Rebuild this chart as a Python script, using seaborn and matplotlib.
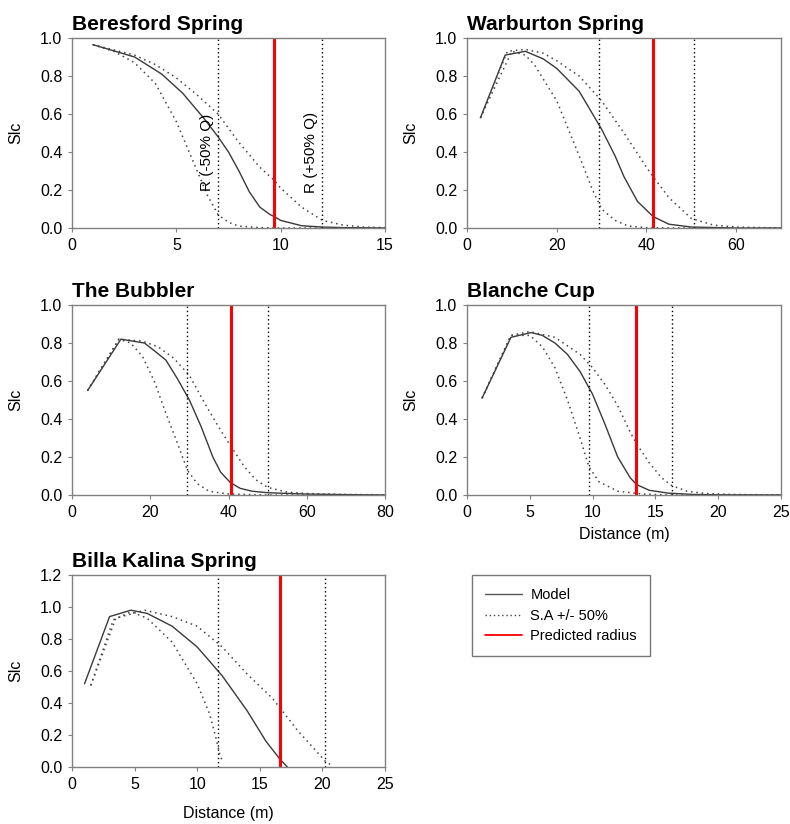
import numpy as np
import pandas as pd
import matplotlib
matplotlib.use("Agg")
import matplotlib.pyplot as plt
from matplotlib.lines import Line2D
import seaborn as sns

# --- data (distance in m, Slc) ---
beresford_model_x = [1, 3, 4.3, 5.3, 6.3, 7, 7.5, 8, 8.5, 9, 9.5, 9.7, 10, 11, 12, 13, 15]
beresford_model_y = [0.965, 0.90, 0.81, 0.71, 0.58, 0.48, 0.40, 0.30, 0.19, 0.11, 0.07, 0.06, 0.04, 0.012, 0.005, 0.002, 0.0]
beresford_low_x = [1, 2, 3, 4, 5, 5.5, 6, 6.5, 7, 7.5, 8, 9, 10, 15]
beresford_low_y = [0.965, 0.93, 0.87, 0.76, 0.56, 0.43, 0.30, 0.17, 0.07, 0.03, 0.01, 0.002, 0.0, 0.0]
beresford_high_x = [1, 3, 4, 5, 6, 7, 8, 9, 9.7, 10, 11, 12, 13, 14, 15]
beresford_high_y = [0.965, 0.91, 0.86, 0.79, 0.70, 0.60, 0.45, 0.32, 0.25, 0.21, 0.11, 0.04, 0.015, 0.005, 0.002]

warburton_model_x = [3, 8.5, 13, 17, 20, 25, 30, 33, 35, 38, 41.5, 45, 50, 60, 70]
warburton_model_y = [0.58, 0.91, 0.93, 0.89, 0.84, 0.72, 0.52, 0.38, 0.27, 0.14, 0.06, 0.02, 0.005, 0.0, 0.0]
warburton_low_x = [3, 10, 13, 15, 20, 25, 28, 30, 33, 36, 40, 45, 70]
warburton_low_y = [0.58, 0.93, 0.91, 0.86, 0.67, 0.38, 0.20, 0.10, 0.04, 0.01, 0.002, 0.0, 0.0]
warburton_high_x = [3, 9, 13, 17, 20, 25, 30, 35, 40, 41.5, 45, 50, 55, 60, 70]
warburton_high_y = [0.58, 0.93, 0.94, 0.92, 0.88, 0.80, 0.67, 0.50, 0.32, 0.27, 0.16, 0.05, 0.015, 0.005, 0.0]

bubbler_model_x = [4, 12.5, 18.5, 21, 24, 27, 30, 33, 36, 38, 40.5, 43, 46, 50, 60, 70, 80]
bubbler_model_y = [0.55, 0.82, 0.80, 0.76, 0.71, 0.61, 0.50, 0.36, 0.20, 0.12, 0.065, 0.035, 0.02, 0.012, 0.005, 0.002, 0.0]
bubbler_low_x = [4, 12, 15, 18, 21, 24, 27, 29.5, 32, 35, 40, 50, 80]
bubbler_low_y = [0.55, 0.82, 0.80, 0.73, 0.60, 0.43, 0.27, 0.13, 0.06, 0.02, 0.005, 0.0, 0.0]
bubbler_high_x = [4, 12, 18, 22, 26, 30, 34, 38, 40.5, 44, 47, 50, 55, 60, 70, 80]
bubbler_high_y = [0.55, 0.82, 0.81, 0.78, 0.72, 0.63, 0.48, 0.34, 0.26, 0.15, 0.08, 0.04, 0.015, 0.008, 0.003, 0.001]

blanche_model_x = [1.2, 3.5, 5.1, 6, 7, 8, 9, 10, 11, 12, 13, 13.5, 14.5, 16, 18, 20, 25]
blanche_model_y = [0.51, 0.83, 0.855, 0.84, 0.80, 0.74, 0.65, 0.53, 0.37, 0.20, 0.09, 0.055, 0.025, 0.01, 0.003, 0.001, 0.0]
blanche_low_x = [1.2, 3.5, 5, 6, 7, 8, 9, 9.7, 10.5, 12, 14, 16, 25]
blanche_low_y = [0.51, 0.84, 0.84, 0.78, 0.67, 0.50, 0.30, 0.15, 0.07, 0.02, 0.005, 0.0, 0.0]
blanche_high_x = [1.2, 3.5, 5, 7, 9, 10, 11, 12, 13, 13.5, 14.5, 15.5, 16.3, 17.5, 19, 21, 25]
blanche_high_y = [0.51, 0.84, 0.86, 0.83, 0.74, 0.67, 0.58, 0.47, 0.33, 0.27, 0.17, 0.09, 0.05, 0.02, 0.008, 0.003, 0.0]

billa_model_x = [1, 3, 4.7, 6, 8, 10, 12, 14, 15.5, 16.6, 17.2]
billa_model_y = [0.52, 0.94, 0.98, 0.96, 0.88, 0.75, 0.57, 0.35, 0.16, 0.05, 0.0]
billa_low_x = [1.5, 3.3, 4.7, 6, 8, 10, 11, 11.5, 11.8, 12]
billa_low_y = [0.51, 0.92, 0.97, 0.93, 0.78, 0.52, 0.33, 0.18, 0.08, 0.04]
billa_high_x = [1.5, 3.5, 5.8, 8, 10, 12, 14, 16, 16.6, 18, 19.5, 20.3, 20.8]
billa_high_y = [0.51, 0.93, 0.98, 0.94, 0.88, 0.75, 0.58, 0.43, 0.37, 0.23, 0.10, 0.03, 0.01]

spring_names = ["Beresford Spring", "Warburton Spring", "The Bubbler", "Blanche Cup", "Billa Kalina Spring"]
radius_low = [7, 29.5, 29.5, 9.7, 11.7]       # R at -50% Q
radius_high = [12, 50.7, 50, 16.3, 20.2]      # R at +50% Q
radius_pred = [9.7, 41.5, 40.6, 13.45, 16.6]  # predicted radius
x_max = [15, 70, 80, 25, 25]
x_step = [5, 20, 20, 5, 5]
y_max = [1.0, 1.0, 1.0, 1.0, 1.2]

series = [
    (beresford_model_x, beresford_model_y, beresford_low_x, beresford_low_y, beresford_high_x, beresford_high_y),
    (warburton_model_x, warburton_model_y, warburton_low_x, warburton_low_y, warburton_high_x, warburton_high_y),
    (bubbler_model_x, bubbler_model_y, bubbler_low_x, bubbler_low_y, bubbler_high_x, bubbler_high_y),
    (blanche_model_x, blanche_model_y, blanche_low_x, blanche_low_y, blanche_high_x, blanche_high_y),
    (billa_model_x, billa_model_y, billa_low_x, billa_low_y, billa_high_x, billa_high_y),
]

sns.set_style("white")
plt.rcParams['font.family'] = ['Liberation Sans', 'DejaVu Sans']
plt.rcParams['text.color'] = 'black'
plt.rcParams['axes.labelcolor'] = 'black'
plt.rcParams['xtick.color'] = 'black'
plt.rcParams['ytick.color'] = 'black'

fig = plt.figure(figsize=(7.9, 8.24), dpi=100)
W, H = 790, 824
# axes boxes in pixels (left, top, right, bottom)
boxes = [(72, 38, 385, 228), (467, 38, 781, 228),
         (72, 305, 385, 495), (467, 305, 781, 495),
         (72, 575, 385, 767)]

GREY = "#808080"
for i, name in enumerate(spring_names):
    l, t, r, b = boxes[i]
    ax = fig.add_axes([l / W, 1 - b / H, (r - l) / W, (b - t) / H])
    mx, my, lx, ly, hx, hy = series[i]

    # model and sensitivity curves
    sns.lineplot(x=mx, y=my, ax=ax, color="#3a3a3a", lw=1.0, sort=False)
    sns.lineplot(x=lx, y=ly, ax=ax, color="#444444", lw=1.1, linestyle=(0, (1, 2.5)), sort=False)
    sns.lineplot(x=hx, y=hy, ax=ax, color="#444444", lw=1.1, linestyle=(0, (1, 2.5)), sort=False)

    # radius markers
    ax.axvline(radius_low[i], color="black", lw=1.0, linestyle=(0, (1, 2)))
    ax.axvline(radius_high[i], color="black", lw=1.0, linestyle=(0, (1, 2)))
    ax.axvline(radius_pred[i], color="#ff0000", lw=2.2)

    ax.set_xlim(0, x_max[i])
    ax.set_ylim(0, y_max[i])
    ax.set_xticks(np.arange(0, x_max[i] + 0.1, x_step[i]))
    ax.set_yticks(np.arange(0, y_max[i] + 0.01, 0.2))
    ax.yaxis.set_major_formatter(matplotlib.ticker.FormatStrFormatter('%.1f'))
    ax.tick_params(axis='both', labelsize=11.5, length=3, width=0.8, color=GREY, direction='out',
                   left=True, bottom=True, pad=4)
    for sp in ax.spines.values():
        sp.set_color(GREY)
        sp.set_linewidth(1.0)

    ax.set_ylabel("Slc", fontsize=11.5, labelpad=12)
    ax.set_title(name, loc='left', fontsize=15, fontweight='bold', pad=6, x=0.0)

    if i == 0:
        ax.text(radius_low[i] - 0.55, 0.40, "R (-50% Q)", rotation=90, fontsize=11,
                ha='center', va='center')
        ax.text(radius_high[i] - 0.55, 0.40, "R (+50% Q)", rotation=90, fontsize=11,
                ha='center', va='center')
    if i == 3:
        ax.set_xlabel("Distance (m)", fontsize=11.5, labelpad=5)
    if i == 4:
        ax.set_xlabel("Distance (m)", fontsize=11.5, labelpad=10)

handles = [
    Line2D([], [], color="#555555", lw=1.0, label="Model"),
    Line2D([], [], color="#444444", lw=1.0, linestyle=(0, (1, 2)), label="S.A +/- 50%"),
    Line2D([], [], color="#ff0000", lw=1.3, label="Predicted radius"),
]
leg = fig.legend(handles=handles, loc='upper left', bbox_to_anchor=(472 / W, 1 - 575 / H),
                 frameon=True, fancybox=False, fontsize=10.5, handlelength=2.5, handletextpad=0.6,
                 borderpad=0.9, labelspacing=0.45, borderaxespad=0)
leg.get_frame().set_edgecolor("#555555")
leg.get_frame().set_linewidth(1.0)

fig.savefig("out.png", dpi=100)
